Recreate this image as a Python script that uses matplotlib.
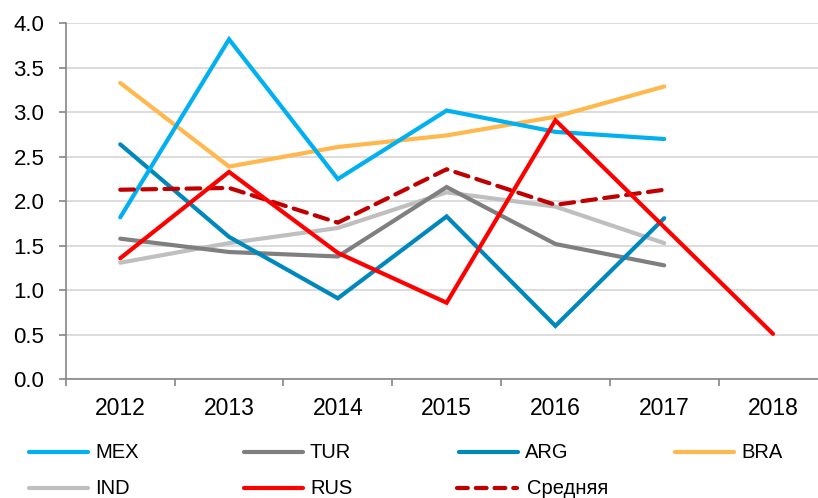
import matplotlib
matplotlib.use("Agg")
import matplotlib.pyplot as plt
from matplotlib.lines import Line2D

plt.rcParams['font.family'] = ['Liberation Sans', 'DejaVu Sans']

years = ["2012", "2013", "2014", "2015", "2016", "2017", "2018"]

mex = [1.82, 3.82, 2.25, 3.02, 2.78, 2.70]
tur = [1.58, 1.43, 1.38, 2.16, 1.52, 1.28]
arg = [2.64, 1.60, 0.91, 1.83, 0.60, 1.81]
bra = [3.33, 2.39, 2.61, 2.74, 2.95, 3.29]
ind = [1.31, 1.53, 1.70, 2.10, 1.94, 1.53]
rus = [1.36, 2.33, 1.42, 0.86, 2.91, 1.71, 0.51]
avg = [2.13, 2.15, 1.76, 2.36, 1.96, 2.13]

series = [
    ("MEX", mex, "#00B0F0", "-"),
    ("TUR", tur, "#7F7F7F", "-"),
    ("ARG", arg, "#0088BD", "-"),
    ("BRA", bra, "#FFB84D", "-"),
    ("IND", ind, "#BFBFBF", "-"),
    ("RUS", rus, "#FF0000", "-"),
    ("Средняя", avg, "#C00000", "--"),
]
draw_order = ["IND", "TUR", "ARG", "BRA", "MEX", "Средняя", "RUS"]

fig = plt.figure(figsize=(8.18, 4.98), dpi=100)
ax = fig.add_axes([0.0805, 0.2384, 0.931, 0.7148])

lw = 3.0
styles = {}
for name, vals, color, ls in series:
    styles[name] = (vals, color, ls)

for z, name in enumerate(draw_order):
    vals, color, ls = styles[name]
    x = list(range(len(vals)))
    if ls == "--":
        ax.plot(x, vals, color=color, lw=lw, linestyle=(0, (3.3, 2.0)),
                dash_capstyle="round", solid_joinstyle="round", zorder=3 + z)
    else:
        ax.plot(x, vals, color=color, lw=lw, solid_capstyle="round",
                solid_joinstyle="miter", zorder=3 + z)

ax.set_xlim(-0.5, len(years) - 0.5)
ax.set_ylim(0, 4.0)
ax.set_yticks([i * 0.5 for i in range(9)])
ax.set_yticklabels([f"{i * 0.5:.1f}" for i in range(9)], fontsize=16)
ax.set_xticks([i - 0.5 for i in range(len(years) + 1)])
ax.set_xticklabels([])
ax.set_xticks(range(len(years)), minor=True)
ax.set_xticklabels(years, minor=True, fontsize=16.5)

ax.yaxis.grid(True, color="#D9D9D9", lw=1.3)
ax.set_axisbelow(True)
for s in ["top", "right"]:
    ax.spines[s].set_visible(False)
for s in ["left", "bottom"]:
    ax.spines[s].set_color("#868686")
    ax.spines[s].set_linewidth(1.2)
ax.tick_params(axis="y", which="major", direction="out", length=5,
               color="#868686", width=1.2, pad=10.5, labelcolor="black")
ax.tick_params(axis="x", which="major", direction="out", length=5,
               color="#868686", width=1.2)
ax.tick_params(axis="x", which="minor", length=0, pad=13, labelcolor="black")

# legend laid out as a 4-column grid under the plot
W, H = 818.0, 498.0
col_x = [27, 242, 457, 673]
row_y = [452, 488]
legend_order = ["MEX", "TUR", "ARG", "BRA", "IND", "RUS", "Средняя"]
for i, name in enumerate(legend_order):
    vals, color, ls = styles[name]
    cx = col_x[i % 4]
    cy = row_y[i // 4]
    y = 1 - cy / H
    if ls == "--":
        ln = Line2D([cx / W, (cx + 60) / W], [y, y], color=color, lw=lw,
                    linestyle=(0, (2.6, 1.9)), dash_capstyle="round",
                    transform=fig.transFigure)
    else:
        ln = Line2D([(cx + 2) / W, (cx + 61) / W], [y, y], color=color, lw=lw,
                    solid_capstyle="round", transform=fig.transFigure)
    fig.add_artist(ln)
    fig.text((cx + (70 if ls == "--" else 68)) / W, y, name, fontsize=14.5,
             va="center", ha="left")

fig.savefig("out.png", dpi=100)
